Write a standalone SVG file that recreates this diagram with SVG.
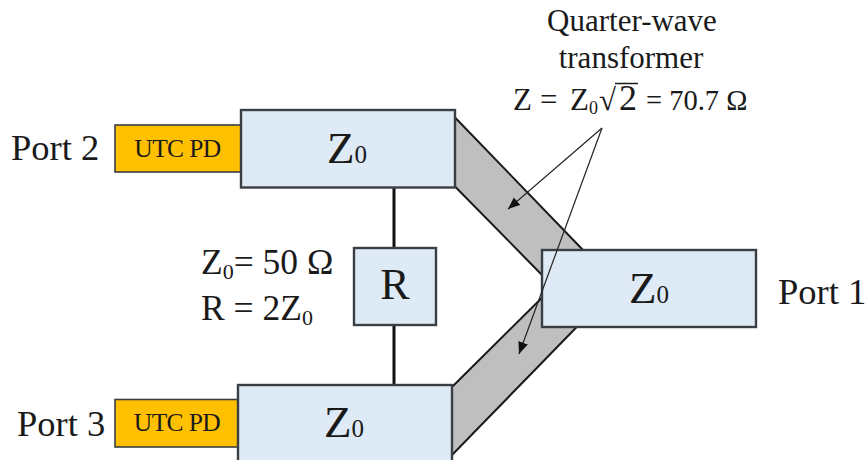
<svg xmlns="http://www.w3.org/2000/svg" width="865" height="460" viewBox="0 0 865 460">
<style>
text{font-family:"Liberation Serif","Times New Roman",serif;fill:#1a1a1a}
.box{fill:#deeaf6;stroke:#3a3f44;stroke-width:2.4}
.pd{fill:#ffc000;stroke:#3a3f44;stroke-width:1.6}
.line{fill:#bfbfbf;stroke:none}
.edge{fill:none;stroke:#1a1a1a;stroke-width:2}
.wire{stroke:#111;stroke-width:3;fill:none}
.arrow{stroke:#222;stroke-width:1.2;fill:none;marker-end:url(#tip)}
.port{font-size:36.5px}
.note{font-size:35.5px}
.sub{font-size:22px}
.l{font-size:31px}
.big2{font-size:36px}
.eq{font-size:28.5px}
.s18{font-size:18px}
.z{font-size:45px}
.zs{font-size:25px}
.rr{font-size:44px}
.pdt{font-size:25.500px;letter-spacing:-.6px}
</style>
<defs>
<marker id="tip" markerUnits="userSpaceOnUse" markerWidth="14" markerHeight="12" refX="12" refY="5" orient="auto"><path d="M0 0L12 5L0 10z" fill="#111"/></marker>
</defs>
<g id="line-upper">
<path class="line" d="M455.500 118L583 250L542 275L455.500 187z"/>
<path class="edge" d="M455.500 118L583 250M455.500 187L542 275"/>
</g>
<g id="line-lower">
<path class="line" d="M452 387L541.700 298L576.700 327L452 455z"/>
<path class="edge" d="M452 387L541.700 298M576.700 327L452 455"/>
</g>
<g id="connectors">
<path class="wire" d="M394 188V248M394 325V385"/>
</g>
<g id="pd-top">
<rect class="pd" x="115" y="125" width="126" height="47"/>
<text class="pdt" x="177.500" y="157" text-anchor="middle">UTC PD</text>
</g>
<g id="pd-bottom">
<rect class="pd" x="115" y="399.500" width="123" height="47.500"/>
<text class="pdt" x="177" y="431" text-anchor="middle">UTC PD</text>
</g>
<g id="z-top">
<rect class="box" x="241" y="110" width="214" height="77.500"/>
<text class="z" x="327" y="163">Z<tspan class="zs">0</tspan></text>
</g>
<g id="z-bottom">
<rect class="box" x="238" y="385" width="214" height="80"/>
<text class="z" x="324" y="437">Z<tspan class="zs">0</tspan></text>
</g>
<g id="z-right">
<rect class="box" x="542" y="250" width="214" height="77"/>
<text class="z" x="629" y="303">Z<tspan class="zs">0</tspan></text>
</g>
<g id="r">
<rect class="box" x="354" y="248" width="82" height="77"/>
<text class="rr" x="395" y="299" text-anchor="middle">R</text>
</g>
<g id="labels">
<text class="port" x="11" y="160">Port 2</text>
<text class="port" x="17" y="436">Port 3</text>
<text class="port" x="778" y="304">Port 1</text>
<text class="note" x="201" y="274">Z<tspan class="sub" dy="5">0</tspan><tspan dy="-5">= 50 Ω</tspan></text>
<text class="note" x="201" y="320">R = 2Z<tspan class="sub" dy="5">0</tspan></text>
<text class="l" x="632" y="31" text-anchor="middle">Quarter-wave</text>
<text class="l" x="631" y="68" text-anchor="middle">transformer</text>
<text class="l" x="513" y="110">Z</text>
<text class="l" x="540" y="110">=</text>
<text class="l" x="570" y="110">Z<tspan class="s18" dy="4">0</tspan></text>
<text class="l" x="599" y="110">√</text>
<path d="M615 83.500H638" stroke="#1a1a1a" stroke-width="1.500" fill="none"/>
<text class="big2" x="619" y="110">2</text>
<text class="eq" x="646" y="110">= 70.7 Ω</text>
</g>
<g id="pointers">
<path class="arrow" d="M602 128L508 209"/>
<path class="arrow" d="M602 128L519 354"/>
</g>
</svg>
